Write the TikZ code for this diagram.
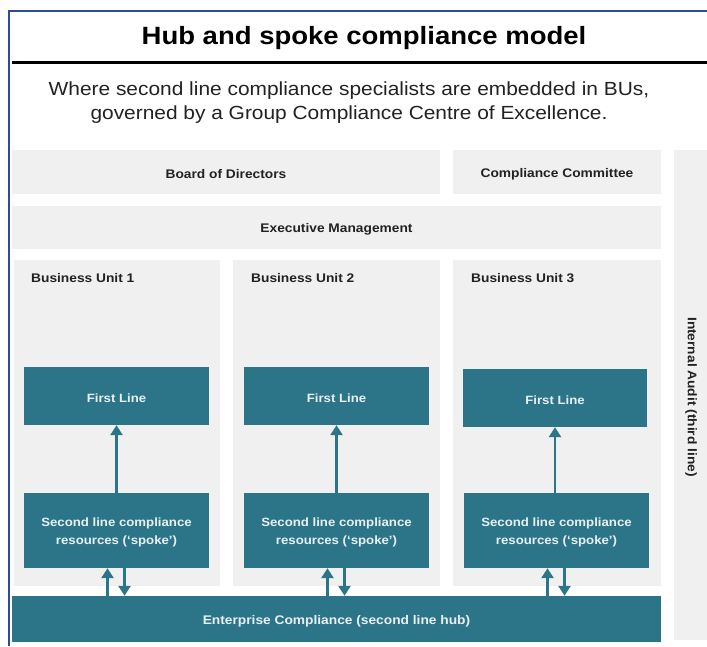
\documentclass[tikz,border=0pt]{standalone}
\usepackage{fontspec}
\setmainfont{Liberation Sans}[FakeStretch=1.1]
\usetikzlibrary{arrows.meta}
\definecolor{teal}{HTML}{2C7589}
\definecolor{panel}{HTML}{F0F0F0}
\definecolor{frameblue}{HTML}{2B4C9B}
\definecolor{inktext}{HTML}{222222}
\definecolor{paletext}{HTML}{E8F0F2}
\begin{document}
\begin{tikzpicture}[x=1pt,y=-1pt,
  panelbox/.style={fill=panel,draw=none,inner sep=0pt},
  tealbox/.style={fill=teal,draw=none,inner sep=0pt},
  boldtext/.style={inner sep=0pt,
    font=\fontsize{12.5}{15}\selectfont\bfseries,text=inktext},
  darklabel/.style={boldtext,yshift=-2pt},
  palelabel/.style={inner sep=0pt,yshift=-2pt,align=center,
    font=\fontsize{12}{18}\selectfont\bfseries,text=paletext},
  unitlabel/.style={boldtext,anchor=west},
  flow/.style={draw=teal,line width=2.6pt,
    -{Triangle[width=12pt,length=10pt]}}]
\useasboundingbox (0,0) rectangle (707,646);
\fill[white] (0,0) rectangle (707,646);

% outer frame and header
\draw[frameblue,line width=2pt] (8.5,646) -- (8.5,10.5) -- (707,10.5);
\node[font=\fontsize{25}{30}\selectfont\bfseries] (title) at (364,38)
  {Hub and spoke compliance model};
\draw[line width=3.5pt] (12,62.5) -- (707,62.5);
\node[align=center,font=\fontsize{19}{24.5}\selectfont,text=inktext] (subtitle)
  at (349,102.5) {Where second line compliance specialists are embedded in BUs,\\
  governed by a Group Compliance Centre of Excellence.};

% governance bands
\node[panelbox,minimum width=428pt,minimum height=44pt] (board) at (226,172) {};
\node[panelbox,minimum width=208pt,minimum height=44pt] (committee) at (557,172) {};
\node[panelbox,minimum width=649pt,minimum height=43pt] (exec) at (336.5,227.5) {};
\node[panelbox,minimum width=34pt,minimum height=490pt] (audit) at (691,395) {};
\node[darklabel] (boardtext) at (board.center) {Board of Directors};
\node[darklabel] (committeetext) at (committee.center) {Compliance Committee};
\node[darklabel] (exectext) at (exec.center) {Executive Management};
\node[boldtext,rotate=-90] (audittext) at ([yshift=-2pt]audit.center)
  {Internal Audit (third line)};

% business units
\node[panelbox,minimum width=206pt,minimum height=326pt] (bu1) at (117,423) {};
\node[panelbox,minimum width=207pt,minimum height=326pt] (bu2) at (336.5,423) {};
\node[panelbox,minimum width=208pt,minimum height=326pt] (bu3) at (557,423) {};
\node[unitlabel] (bu1label) at (31,278.5) {Business Unit 1};
\node[unitlabel] (bu2label) at (251,278.5) {Business Unit 2};
\node[unitlabel] (bu3label) at (471,278.5) {Business Unit 3};

% first line boxes
\node[tealbox,minimum width=185pt,minimum height=58pt] (first1) at (116.5,396) {};
\node[tealbox,minimum width=185pt,minimum height=58pt] (first2) at (336.5,396) {};
\node[tealbox,minimum width=184pt,minimum height=58pt] (first3) at (555,398) {};

% spoke boxes
\node[tealbox,minimum width=185pt,minimum height=75pt] (spoke1) at (116.5,530.5) {};
\node[tealbox,minimum width=185pt,minimum height=75pt] (spoke2) at (336.5,530.5) {};
\node[tealbox,minimum width=185pt,minimum height=75pt] (spoke3) at (556.5,530.5) {};

% hub
\node[tealbox,minimum width=649pt,minimum height=46pt] (hub) at (336.5,619) {};
\node[palelabel,font=\fontsize{12.5}{18}\selectfont\bfseries] (hubtext) at (hub.center)
  {Enterprise Compliance (second line hub)};

\foreach \i in {1,2,3}{
  \node[palelabel] (firsttext\i) at (first\i.center) {First Line};
  \node[palelabel] (spoketext\i) at (spoke\i.center)
    {Second line compliance\\resources (‘spoke’)};
  % spoke feeds its first line
  \draw[flow] (spoke\i.north -| first\i.south) -- (first\i.south);
  % two-way link between spoke and hub
  \draw[flow] ([xshift=-9pt]spoke\i.south |- hub.north) -- ([xshift=-9pt]spoke\i.south);
  \draw[flow] ([xshift=8pt]spoke\i.south) -- ([xshift=8pt]spoke\i.south |- hub.north);
}
\end{tikzpicture}
\end{document}
